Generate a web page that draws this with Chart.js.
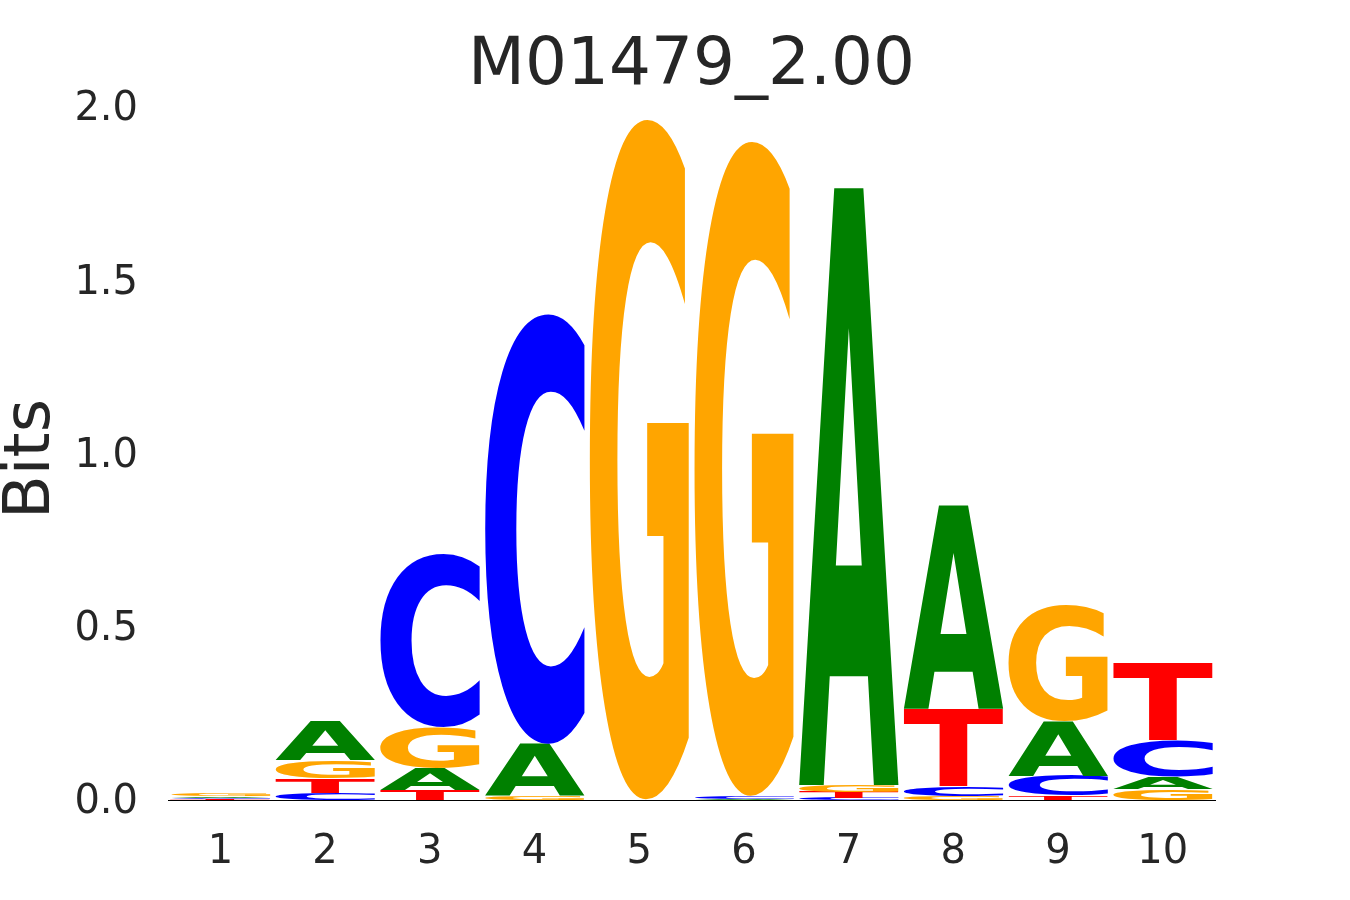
<!DOCTYPE html>
<html>
<head>
<meta charset="utf-8">
<script src="https://cdn.jsdelivr.net/npm/chart.js@4"></script>
<style>
  body { margin: 0; background: #fff; }
</style>
</head>
<body>
<canvas id="logo" width="1350" height="900"></canvas>
<script>
const positions = ['1', '2', '3', '4', '5', '6', '7', '8', '9', '10'];
// information (bits) carried by each base at each position
const A = [0.0045, 0.113, 0.064, 0.148, 0.0, 0.004, 1.725, 0.588, 0.157, 0.035];
const C = [0.004, 0.020, 0.500, 1.245, 0.0, 0.006, 0.007, 0.028, 0.057, 0.107];
const G = [0.006, 0.052, 0.116, 0.013, 1.97, 1.896, 0.019, 0.012, 0.336, 0.031];
const T = [0.003, 0.042, 0.029, 0.0, 0.0, 0.0, 0.017, 0.223, 0.012, 0.223];
const yTicks = [0, 0.5, 1.0, 1.5, 2.0];

const colors = { A: '#008000', C: '#0000ff', G: '#ffa500', T: '#ff0000' };
const textColor = '#262626';
const fontFamily = '"DejaVu Sans", sans-serif';

// smallest letter at the bottom of each stack
const stacks = positions.map((p, i) =>
    [['A', A[i]], ['C', C[i]], ['G', G[i]], ['T', T[i]]].sort((a, b) => a[1] - b[1])
);
const datasets = [0, 1, 2, 3].map(r => ({
    label: 'rank' + r,
    data: stacks.map(s => s[r][1]),
    letters: stacks.map(s => s[r][0]),
    backgroundColor: 'rgba(0,0,0,0)',
    borderWidth: 0,
    categoryPercentage: 1.0,
    barPercentage: 0.955
}));

const letterPlugin = {
    id: 'letters',
    afterDatasetsDraw(chart) {
        const c = chart.ctx;
        chart.getSortedVisibleDatasetMetas().forEach(meta => {
            const ds = chart.data.datasets[meta.index];
            meta.data.forEach((bar, i) => {
                const p = bar.getProps(['x', 'y', 'base', 'width'], true);
                const top = Math.min(p.y, p.base);
                const h = Math.abs(p.base - p.y);
                if (h < 0.3) return;
                const letter = ds.letters[i];
                c.save();
                c.font = 'bold 200px ' + fontFamily;
                c.textAlign = 'left';
                c.textBaseline = 'alphabetic';
                const m = c.measureText(letter);
                const gw = m.actualBoundingBoxLeft + m.actualBoundingBoxRight;
                const gh = m.actualBoundingBoxAscent + m.actualBoundingBoxDescent;
                c.translate(p.x - p.width / 2, top);
                c.scale(p.width / gw, h / gh);
                c.fillStyle = colors[letter];
                c.fillText(letter, m.actualBoundingBoxLeft, m.actualBoundingBoxAscent);
                c.restore();
            });
        });
    }
};

const titlePlugin = {
    id: 'logoTitle',
    afterDraw(chart) {
        const c = chart.ctx;
        const area = chart.chartArea;
        c.save();
        c.fillStyle = textColor;
        c.textAlign = 'center';
        c.textBaseline = 'alphabetic';
        c.font = '66px ' + fontFamily;
        c.fillText('M01479_2.00', (area.left + area.right) / 2, 84);
        c.font = '64px ' + fontFamily;
        c.translate(49, 459);
        c.rotate(-Math.PI / 2);
        c.fillText('Bits', 0, 0);
        c.restore();
    }
};

new Chart(document.getElementById('logo'), {
    type: 'bar',
    data: { labels: positions, datasets: datasets },
    plugins: [letterPlugin, titlePlugin],
    options: {
        responsive: false,
        animation: false,
        layout: { padding: { top: 107, right: 135, left: 0, bottom: 0 } },
        plugins: {
            legend: { display: false },
            tooltip: { enabled: false },
            title: { display: false }
        },
        scales: {
            x: {
                stacked: true,
                grid: { display: false, drawTicks: false },
                border: { display: true, color: '#000000', width: 1 },
                ticks: {
                    color: textColor,
                    padding: 29,
                    font: { size: 40, family: fontFamily }
                },
                afterFit(scale) { scale.height = 100; }
            },
            y: {
                stacked: true,
                min: 0,
                max: 2,
                grid: { display: false, drawTicks: false },
                border: { display: false },
                afterBuildTicks(scale) { scale.ticks = yTicks.map(v => ({ value: v })); },
                ticks: {
                    color: textColor,
                    padding: 30,
                    labelOffset: 3,
                    font: { size: 40, family: fontFamily },
                    callback: v => v.toFixed(1)
                },
                afterFit(scale) { scale.width = 168; }
            }
        }
    }
});
</script>
</body>
</html>
